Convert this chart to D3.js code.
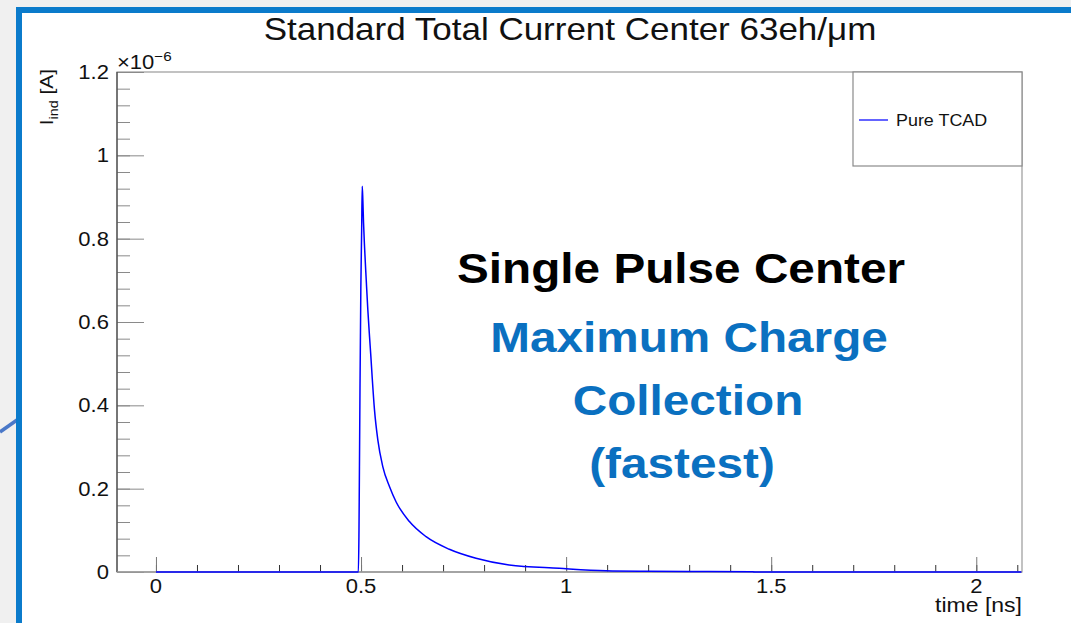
<!DOCTYPE html>
<html><head><meta charset="utf-8">
<script src="https://cdn.jsdelivr.net/npm/d3@7"></script>
<style>
html,body{margin:0;padding:0;background:#f0f0f0;}
svg{display:block;font-family:"Liberation Sans",Arial,sans-serif;}
</style></head>
<body>
<svg id="c" width="1071" height="623"></svg>
<script>
// ---- data (time in ns, current in units of 1e-6 A) ----
const timeNs = [0, 0.2, 0.4, 0.49, 0.4935, 0.4950, 0.4975, 0.4995, 0.5015, 0.5029, 0.5044, 0.5061, 0.5085, 0.5127, 0.5165, 0.5207, 0.5238, 0.5273, 0.5328, 0.5409, 0.5530, 0.5693, 0.5856, 0.6180, 0.6586, 0.7153, 0.7803, 0.861, 0.983, 1.097, 1.2, 1.33, 1.45, 1.46, 1.7, 2.11];
const currentE6 = [0, 0, 0, 0, 0, 0.10, 0.45, 0.68, 0.82, 0.926, 0.893, 0.838, 0.781, 0.700, 0.630, 0.565, 0.520, 0.465, 0.389, 0.317, 0.253, 0.205, 0.168, 0.121, 0.0847, 0.0545, 0.0329, 0.0168, 0.0089, 0.0031, 0.0018, 0.0012, 0.0008, 0, 0, 0];
const xMajorTicks = [0, 0.5, 1, 1.5, 2];
const xTickLabels = ["0", "0.5", "1", "1.5", "2"];
const yMajorTicks = [0, 0.2, 0.4, 0.6, 0.8, 1, 1.2];
const yTickLabels = ["0", "0.2", "0.4", "0.6", "0.8", "1", "1.2"];
const seriesName = "Pure TCAD";
const titleText = "Standard Total Current Center 63eh/\u03BCm";
const annotBlack = ["Single Pulse Center"];
const annotBlue = ["Maximum Charge", "Collection", "(fastest)"];

const svg = d3.select("#c");
// slide background
svg.append("rect").attr("x",0).attr("y",0).attr("width",1071).attr("height",623).attr("fill","#f0f0f0");
svg.append("line").attr("x1",0).attr("y1",432).attr("x2",17).attr("y2",420).attr("stroke","#4a78c8").attr("stroke-width",3.5);
svg.append("rect").attr("x",16).attr("y",7).attr("width",1071-16).attr("height",623-7).attr("fill","#0b7bcb");
svg.append("rect").attr("x",22).attr("y",13).attr("width",1071-22).attr("height",623-13).attr("fill","#ffffff");

function txt(parent, x0, y0, s, size, sx, anchor, fill, weight){
  return parent.append("text").attr("transform",`translate(${x0},${y0}) scale(${sx},1)`)
    .attr("text-anchor",anchor).attr("font-size",size).attr("fill",fill||"#111")
    .attr("font-weight",weight||"normal").text(s);
}

const L=117, R=1022, T=72, B=572;
const x = d3.scaleLinear().domain([-0.095, 2.1115]).range([L, R]);
const y = d3.scaleLinear().domain([0, 1.2]).range([B, T]);

// frame
svg.append("rect").attr("x",L).attr("y",T).attr("width",R-L).attr("height",B-T)
  .attr("fill","none").attr("stroke","#9a9a9a").attr("stroke-width",1.2);

// y axis
const yMinor = d3.range(0, 1.2001, 0.04);
svg.append("g").attr("transform",`translate(${L},0)`)
  .call(d3.axisRight(y).tickValues(yMinor).tickSize(13).tickFormat(""))
  .call(g=>{g.select(".domain").remove(); g.selectAll("line").attr("stroke","#8a8a8a");});
svg.append("g").attr("transform",`translate(${L},0)`)
  .call(d3.axisRight(y).tickValues(yMajorTicks).tickSize(27).tickFormat(""))
  .call(g=>{g.select(".domain").remove(); g.selectAll("line").attr("stroke","#8a8a8a");});
svg.append("line").attr("x1",L).attr("x2",L).attr("y1",T).attr("y2",B).attr("stroke","#444").attr("stroke-width",1.2);
const yl = svg.append("g");
yMajorTicks.forEach((d,i)=>txt(yl, L-8, y(d)+7, yTickLabels[i], 19.5, 1.13, "end"));
// exponent
const ex = svg.append("text").attr("transform",`translate(${L},69) scale(1.13,1)`).attr("font-size",19.5).attr("fill","#111");
ex.append("tspan").text("\u00D710");
ex.append("tspan").attr("dy",-8).attr("font-size",13.5).text("\u22126");
// y title
const yt = svg.append("text").attr("transform","translate(53,69) rotate(-90) scale(1.1,1)").attr("text-anchor","end")
  .attr("font-size",19).attr("fill","#111");
yt.append("tspan").text("I");
yt.append("tspan").attr("dy",5).attr("font-size",13).text("ind");
yt.append("tspan").attr("dy",-5).text(" [A]");

// x axis
const xMinor = d3.range(0, 2.1001, 0.1).map(v=>+v.toFixed(2));
svg.append("g").attr("transform",`translate(0,${B})`)
  .call(d3.axisTop(x).tickValues(xMinor).tickSize(7).tickFormat(""))
  .call(g=>{g.select(".domain").remove(); g.selectAll("line").attr("stroke","#333");});
svg.append("g").attr("transform",`translate(0,${B})`)
  .call(d3.axisTop(x).tickValues(xMajorTicks).tickSize(15).tickFormat(""))
  .call(g=>{g.select(".domain").remove(); g.selectAll("line").attr("stroke","#777");});
svg.append("line").attr("x1",L).attr("x2",R).attr("y1",B).attr("y2",B).attr("stroke","#9a9a9a").attr("stroke-width",1.5);
const xl = svg.append("g");
xMajorTicks.forEach((d,i)=>txt(xl, x(d), 593, xTickLabels[i], 19.5, 1.13, "middle"));
txt(svg, R, 612, "time [ns]", 19.5, 1.18, "end");

// curve
const line = d3.line().x((d,i)=>x(timeNs[i])).y(d=>y(d)).curve(d3.curveMonotoneX);
svg.append("path").datum(currentE6).attr("d",line).attr("fill","none")
  .attr("stroke","#0000ff").attr("stroke-width",1.5).attr("stroke-linejoin","round");

// legend
svg.append("rect").attr("x",853).attr("y",T).attr("width",R-853).attr("height",94)
  .attr("fill","#fff").attr("stroke","#8a8a8a").attr("stroke-width",1.2);
svg.append("line").attr("x1",859).attr("x2",888).attr("y1",120).attr("y2",120).attr("stroke","#3030ff").attr("stroke-width",1.5);
txt(svg, 896, 126, seriesName, 16, 1.12, "start");

// title
txt(svg, 570, 40, titleText, 32, 1.094, "middle");

// annotations
txt(svg, 681, 283, annotBlack[0], 42, 1.136, "middle", "#000", "bold");
const blueY = [352, 415, 478], blueX = [689, 688, 682];
annotBlue.forEach((d,i)=>txt(svg, blueX[i], blueY[i], d, 42, 1.136, "middle", "#0a70c0", "bold"));
</script>
</body></html>
